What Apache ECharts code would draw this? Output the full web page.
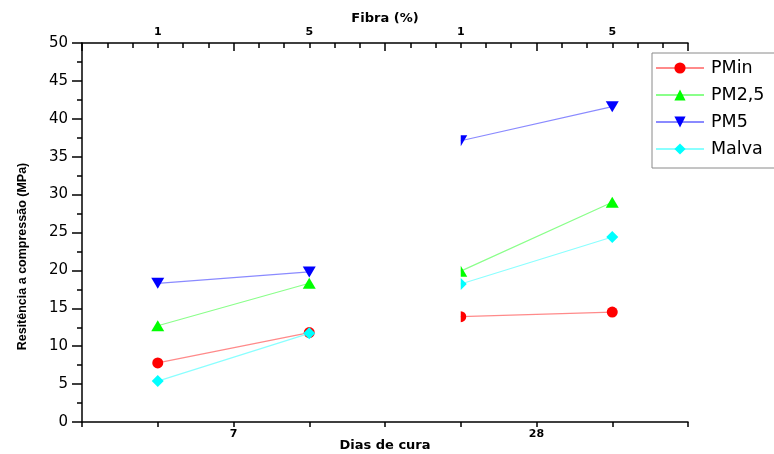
<!DOCTYPE html>
<html><head><meta charset="utf-8">
<script src="https://cdn.jsdelivr.net/npm/echarts@6/dist/echarts.min.js"></script>
<style>html,body{margin:0;padding:0;background:#fff}#c{width:774px;height:454px}</style>
</head><body><div id="c"></div>
<script>
// ---- data ----
const fibraLabels = ['1', '5', '1', '5'];      // top axis (Fibra %)
const diasLabels = ['7', '28'];                 // bottom axis (Dias de cura)
const seriesNames = ['PMin', 'PM2,5', 'PM5', 'Malva'];
const PMin  = [7.8, 11.8, 13.9, 14.5];
const PM25  = [12.7, 18.3, 19.9, 29.0];
const PM5   = [18.3, 19.8, 37.1, 41.6];
const Malva = [5.4, 11.7, 18.2, 24.4];

// ---- styles ----
const markerColors = ['#ff0000', '#00ff00', '#0000ff', '#00ffff'];
const lineColors = ['#ff8a8a', '#8aff8a', '#8a8aff', '#8affff'];
const symbols = ['circle', 'path://M0,2L1,0L2,2Z', 'path://M0,0L2,0L1,2Z', 'path://M1,0L2,1L1,2L0,1Z'];
const halfSymbols = ['path://M0,0A1,1 0 0 1 0,2Z', 'path://M0,0L1,1L0,1Z', 'path://M0,0L1,0L0,1Z', 'path://M0,0L1,1L0,2Z'];
const sizes = [[11, 11], [13, 11], [13, 11], [12, 12]];
const values = [PMin, PM25, PM5, Malva];

// x position of each point: centre of its category slot on a 0..8 scale
function buildData(vals, k) {
  const d = [];
  vals.forEach((v, i) => {
    const x = 2 * i + 1;
    if (i === 2) {
      d.push([x - 1, '-']); // break between curing-day groups
      const w = sizes[k][0], h = sizes[k][1];
      d.push({ value: [x, v], symbol: halfSymbols[k], symbolSize: [w / 2, h], symbolOffset: [w / 4, 0] });
    } else {
      d.push([x, v]);
    }
  });
  return d;
}

const chart = echarts.init(document.getElementById('c'));
const FONT = 'DejaVu Sans';
chart.setOption({
  animation: false,
  backgroundColor: '#fff',
  grid: { left: 82, right: 86, top: 43, bottom: 32, containLabel: false, outerBoundsMode: 'none' },
  graphic: [{
    type: 'rect', shape: { x: 652, y: 53, width: 130, height: 115 },
    style: { fill: '#fff', stroke: '#8a8a8a', lineWidth: 1 }, z: 50
  }],
  legend: {
    data: seriesNames, orient: 'vertical', left: 655, top: 59, z: 60,
    itemWidth: 48, itemHeight: 14, itemGap: 9,
    textStyle: { fontFamily: FONT, fontSize: 17.5, color: '#000', padding: [0, 0, 0, 2] },
    padding: 0
  },
  xAxis: [
    { // bottom: dias de cura
      type: 'value', position: 'bottom', min: 0, max: 8, interval: 1,
      name: 'Dias de cura', nameLocation: 'middle', nameGap: 17, nameMoveOverlap: false,
      nameTextStyle: { fontFamily: FONT, fontWeight: 'bold', fontSize: 13, color: '#000' },
      axisLine: { show: true, onZero: false, lineStyle: { color: '#000', width: 1.5 } },
      axisTick: { show: true, inside: false, length: 5, lineStyle: { color: '#000', width: 1.5 } },
      axisLabel: {
        margin: 7, fontFamily: FONT, fontWeight: 'bold', fontSize: 11, color: '#000',
        formatter: v => (v === 2 ? diasLabels[0] : v === 6 ? diasLabels[1] : '')
      },
      splitLine: { show: false }
    },
    { // top: fibra ticks
      type: 'value', position: 'top', min: 0, max: 8, interval: 2,
      name: 'Fibra (%)', nameLocation: 'middle', nameGap: 18, nameMoveOverlap: false,
      nameTextStyle: { fontFamily: FONT, fontWeight: 'bold', fontSize: 13, color: '#000' },
      axisLine: { show: true, onZero: false, lineStyle: { color: '#000', width: 1.5 } },
      axisTick: { show: true, inside: true, length: 8, lineStyle: { color: '#000', width: 1.5 } },
      minorTick: { show: true, splitNumber: 6, length: 5, lineStyle: { color: '#000', width: 1.5 } },
      axisLabel: { show: false },
      splitLine: { show: false }, minorSplitLine: { show: false }
    },
    { // top: fibra labels
      type: 'value', position: 'top', min: 0, max: 8, interval: 1,
      axisLine: { show: false }, axisTick: { show: false }, splitLine: { show: false },
      axisLabel: {
        margin: 5, fontFamily: FONT, fontWeight: 'bold', fontSize: 11, color: '#000',
        formatter: v => (v % 2 === 1 ? fibraLabels[(v - 1) / 2] : '')
      }
    }
  ],
  yAxis: {
    type: 'value', min: 0, max: 50, interval: 5,
    name: 'Resitência a compressão (MPa)', nameLocation: 'middle', nameGap: 53, nameMoveOverlap: false,
    nameTextStyle: { fontFamily: 'Liberation Sans', fontWeight: 'bold', fontSize: 12.5, color: '#000', padding: [0, 48, 0, 0] },
    axisLine: { show: true, lineStyle: { color: '#000', width: 1.5 } },
    axisTick: { show: true, inside: false, length: 10, lineStyle: { color: '#000', width: 1.5 } },
    minorTick: { show: true, splitNumber: 2, length: 5, lineStyle: { color: '#000', width: 1.5 } },
    axisLabel: { margin: 14, fontFamily: FONT, fontSize: 15, color: '#000' },
    splitLine: { show: false }, minorSplitLine: { show: false }
  },
  series: seriesNames.map((n, k) => ({
    name: n, type: 'line', xAxisIndex: 0,
    data: buildData(values[k], k),
    connectNulls: false,
    symbol: symbols[k], symbolSize: sizes[k],
    itemStyle: { color: markerColors[k] },
    lineStyle: { color: lineColors[k], width: 1.2 },
    z: 10 + k
  }))
});
</script></body></html>
